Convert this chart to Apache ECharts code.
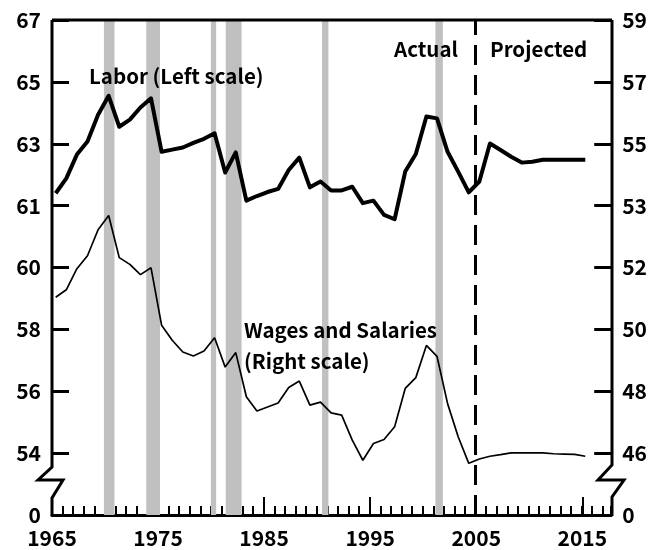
<!DOCTYPE html>
<html>
<head>
<meta charset="utf-8">
<script src="https://cdn.jsdelivr.net/npm/echarts@6/dist/echarts.min.js"></script>
<style>
  html, body { margin: 0; padding: 0; background: #fff; }
  #chart { width: 650px; height: 550px; }
</style>
</head>
<body>
<div id="chart"></div>
<script>
// annual values
var years = [];
for (var y = 1965; y <= 2015; y++) years.push(y);

var labor = [61.40, 61.88, 62.65, 63.07, 63.94, 64.55, 63.55, 63.78, 64.17, 64.47,
             62.74, 62.81, 62.88, 63.03, 63.16, 63.34, 62.07, 62.72, 61.16, 61.31,
             61.44, 61.54, 62.15, 62.55, 61.59, 61.78, 61.49, 61.49, 61.61, 61.08,
             61.16, 60.85, 60.78, 62.10, 62.67, 63.88, 63.82, 62.74, 62.10, 61.43,
             61.78, 63.01, 62.80, 62.58, 62.39, 62.42, 62.48, 62.48, 62.48, 62.48, 62.48];

var wages = [51.04, 51.28, 51.96, 52.19, 52.61, 52.84, 52.16, 52.05, 51.77, 51.99,
             50.13, 49.65, 49.27, 49.14, 49.30, 49.73, 48.78, 49.25, 47.82, 47.36,
             47.49, 47.62, 48.12, 48.33, 47.55, 47.65, 47.30, 47.23, 46.42, 45.77,
             46.31, 46.44, 46.85, 48.09, 48.44, 49.48, 49.13, 47.60, 46.53, 45.67,
             45.81, 45.90, 45.95, 46.01, 46.01, 46.01, 46.01, 45.98, 45.97, 45.96, 45.90];

// recessions (shaded)
var recessions = [[1969.9, 1970.9], [1973.9, 1975.2], [1980.0, 1980.5],
                  [1981.4, 1982.9], [1990.5, 1991.1], [2001.2, 2001.9]];

// tick labels: evenly spaced, broken scale
var leftTicks  = ['0', '54', '56', '58', '60', '61', '63', '65', '67'];
var rightTicks = ['0', '46', '48', '50', '52', '53', '55', '57', '59'];

var splitYear = 2005;   // actual | projected
var plotOffset = 0.35;  // annual points are drawn a little past the year mark

// value -> slot on the evenly spaced axis (piecewise, like the printed scale)
function makeScale(ticks) {
  var pts = [];
  for (var i = 1; i < ticks.length; i++) pts.push([Number(ticks[i]), i]);
  return function (v) {
    var a, b;
    if (v <= pts[0][0]) { a = pts[0]; b = pts[1]; }
    else if (v >= pts[pts.length - 1][0]) { a = pts[pts.length - 2]; b = pts[pts.length - 1]; }
    else {
      for (var k = 0; k < pts.length - 1; k++) {
        if (v >= pts[k][0] && v <= pts[k + 1][0]) { a = pts[k]; b = pts[k + 1]; break; }
      }
    }
    return a[1] + (v - a[0]) * (b[1] - a[1]) / (b[0] - a[0]);
  };
}
var leftScale = makeScale(leftTicks);
var rightScale = makeScale(rightTicks);

var FONT = '"Noto Sans CJK KR", "Noto Sans", sans-serif';
var G = { left: 52, right: 38, top: 20, bottom: 35 };
var W = 650, H = 550;
var L = G.left, R = W - G.right, T = G.top, B = H - G.bottom;

var chart = echarts.init(document.getElementById('chart'), null, { renderer: 'canvas' });

var labelStyle = { color: '#000', fontFamily: FONT, fontWeight: 'bold', fontSize: 21 };
var noteFont = 'bold 20.5px ' + FONT;

option = {
  animation: false,
  backgroundColor: '#fff',
  grid: [
    { left: G.left, right: G.right, top: G.top, bottom: G.bottom },
    { left: G.left, right: G.right, top: G.top, bottom: G.bottom }
  ],
  xAxis: [
    { // yearly minor ticks + axis line
      type: 'value', gridIndex: 0, min: 1965, max: 2017.8, interval: 1,
      axisLine: { show: true, lineStyle: { color: '#000', width: 3 } },
      axisTick: { show: true, inside: true, length: 9, lineStyle: { color: '#000', width: 2 } },
      axisLabel: { show: false },
      splitLine: { show: false }
    },
    { // decade ticks + labels
      type: 'value', gridIndex: 1, min: 1965, max: 2017.8, interval: 10,
      axisLine: { show: false },
      axisTick: { show: true, inside: true, length: 18, lineStyle: { color: '#000', width: 2 } },
      axisLabel: Object.assign({
        margin: 13,
        formatter: function (v) { return (v - 1965) % 10 === 0 ? String(v) : ''; }
      }, labelStyle),
      splitLine: { show: false }
    }
  ],
  yAxis: [
    {
      type: 'value', gridIndex: 0, position: 'left', min: 0, max: 8, interval: 1,
      axisLine: { show: false },
      axisTick: { show: true, inside: true, length: 17, lineStyle: { color: '#000', width: 3 } },
      axisLabel: Object.assign({ margin: 11, formatter: function (v) { return leftTicks[v]; } }, labelStyle),
      splitLine: { show: false }
    },
    {
      type: 'value', gridIndex: 0, position: 'right', min: 0, max: 8, interval: 1,
      axisLine: { show: false },
      axisTick: { show: true, inside: true, length: 17, lineStyle: { color: '#000', width: 3 } },
      axisLabel: Object.assign({ margin: 11, formatter: function (v) { return rightTicks[v]; } }, labelStyle),
      splitLine: { show: false }
    },
    {
      type: 'value', gridIndex: 1, min: 0, max: 8, show: false
    }
  ],
  series: [
    {
      name: 'shading', type: 'line', xAxisIndex: 0, yAxisIndex: 0, z: 1,
      data: [], silent: true,
      markArea: {
        silent: true,
        itemStyle: { color: '#c0c0c0' },
        data: recessions.map(function (r) { return [{ xAxis: r[0] }, { xAxis: r[1] }]; })
      }
    },
    {
      name: 'Labor', type: 'line', xAxisIndex: 0, yAxisIndex: 0, z: 3,
      symbol: 'none',
      lineStyle: { color: '#000', width: 4, join: 'round' },
      data: years.map(function (yr, i) { return [yr + plotOffset, leftScale(labor[i])]; })
    },
    {
      name: 'Wages and Salaries', type: 'line', xAxisIndex: 0, yAxisIndex: 1, z: 3,
      symbol: 'none',
      lineStyle: { color: '#000', width: 1.7 },
      data: years.map(function (yr, i) { return [yr + plotOffset, rightScale(wages[i])]; })
    },
    {
      name: 'split', type: 'line', xAxisIndex: 0, yAxisIndex: 0, z: 4,
      data: [], silent: true,
      markLine: {
        silent: true, symbol: 'none',
        label: { show: false },
        lineStyle: { color: '#000', width: 3, type: [20, 10] },
        data: [{ xAxis: splitYear }]
      }
    }
  ],
  graphic: [
    // frame with axis breaks
    { type: 'polyline', z: 10, shape: { points: [[L, T], [R, T]] },
      style: { stroke: '#000', lineWidth: 3, fill: null } },
    { type: 'polyline', z: 10,
      shape: { points: [[L, T], [L, 467], [L - 14, 480], [L + 11, 480], [L, 498], [L, B + 1]] },
      style: { stroke: '#000', lineWidth: 3, fill: null, lineJoin: 'miter' } },
    { type: 'polyline', z: 10,
      shape: { points: [[R, T], [R, 465], [R - 14, 480], [R + 12, 480], [R, 497], [R, B + 1]] },
      style: { stroke: '#000', lineWidth: 3, fill: null, lineJoin: 'miter' } },
    // annotations
    { type: 'text', z: 10, left: 89, top: 66,
      style: { text: 'Labor (Left scale)', fill: '#000', font: noteFont } },
    { type: 'text', z: 10, right: 650 - 458, top: 39,
      style: { text: 'Actual', fill: '#000', font: noteFont } },
    { type: 'text', z: 10, left: 490, top: 39,
      style: { text: 'Projected', fill: '#000', font: noteFont } },
    { type: 'text', z: 10, left: 244, top: 315,
      style: { text: 'Wages and Salaries\n(Right scale)', fill: '#000', font: noteFont, lineHeight: 31 } }
  ]
};

chart.setOption(option);
</script>
</body>
</html>
